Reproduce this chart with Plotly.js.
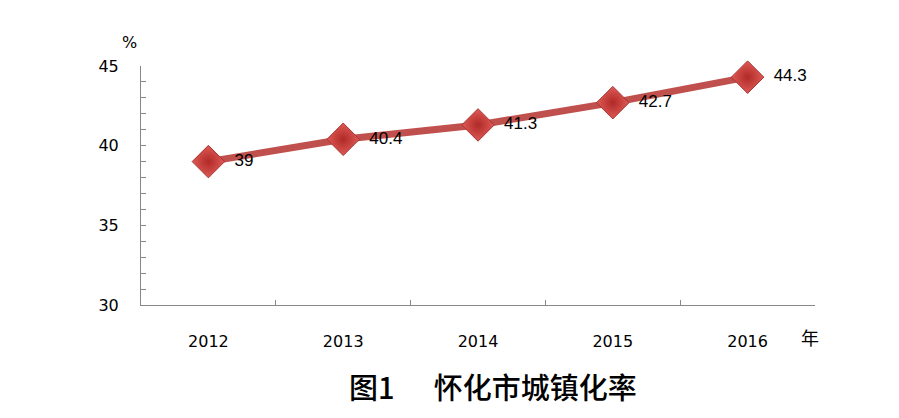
<!DOCTYPE html>
<html><head><meta charset="utf-8">
<script src="https://cdn.plot.ly/plotly-3.0.1.min.js"></script>
<style>html,body{margin:0;padding:0;background:#fff}</style>
</head><body>
<div id="chart" style="width:899px;height:418px"></div>
<script>
const years = ['2012','2013','2014','2015','2016'];
const rates = [39, 40.4, 41.3, 42.7, 44.3];
const rateLabels = ['39','40.4','41.3','42.7','44.3'];

const trace = {
  x: years, y: rates, type: 'scatter', mode: 'lines+markers+text',
  text: rateLabels, texttemplate: '&nbsp;&nbsp;%{text}', textposition: 'middle right',
  textfont: {family: 'Liberation Sans, Arial, sans-serif', size: 17, color: '#000'},
  line: {color: '#C0504D', width: 7},
  marker: {symbol: 'diamond', size: 25, color: '#DE5A56',
    gradient: {type: 'radial', color: '#B02A28'},
    line: {color: '#A8322F', width: 1}},
  cliponaxis: false, hoverinfo: 'none'
};

const layout = {
  width: 899, height: 418,
  margin: {l: 141, r: 84, t: 66, b: 113},
  paper_bgcolor: '#fff', plot_bgcolor: '#fff',
  showlegend: false,
  font: {family: 'DejaVu Sans, sans-serif', size: 16, color: '#000'},
  xaxis: {type: 'category', range: [-0.5, 4.5], showgrid: false, zeroline: false,
    showline: true, linecolor: '#888', linewidth: 1,
    ticks: 'inside', tickson: 'boundaries', ticklen: 5, tickcolor: '#888',
    ticklabelstandoff: 22, tickfont: {size: 16, family: 'DejaVu Sans, sans-serif'}},
  yaxis: {range: [30, 45], dtick: 5, showgrid: false, zeroline: false,
    showline: true, linecolor: '#888', linewidth: 1,
    ticks: 'inside', ticklen: 5, tickcolor: '#888',
    ticklabelstandoff: 18, tickfont: {size: 16, family: 'DejaVu Sans, sans-serif'}},
  annotations: [
    {text: '%', xref: 'paper', yref: 'paper', x: -0.017, y: 1.1, xanchor: 'center', yanchor: 'middle', showarrow: false,
     font: {size: 16, family: 'DejaVu Sans, sans-serif'}},
    {text: '年', xref: 'paper', yref: 'paper', x: 0.993, y: -0.135, xanchor: 'center', yanchor: 'middle', showarrow: false,
     font: {size: 18, family: 'Noto Sans CJK SC, sans-serif'}},
    {text: '图1&nbsp;&nbsp;&nbsp;&nbsp;&nbsp;&nbsp;怀化市城镇化率', xref: 'paper', yref: 'paper', x: 0.522, y: -0.34,
     xanchor: 'center', yanchor: 'middle', showarrow: false,
     font: {size: 29, weight: 500, family: 'Noto Sans CJK SC, sans-serif', color: '#000'}}
  ]
};
layout.yaxis.minor = {dtick: 1, ticks: 'inside', ticklen: 5, tickcolor: '#888', showgrid: false};

Plotly.newPlot('chart', [trace], layout, {displayModeBar: false, staticPlot: true});
</script>
</body></html>
